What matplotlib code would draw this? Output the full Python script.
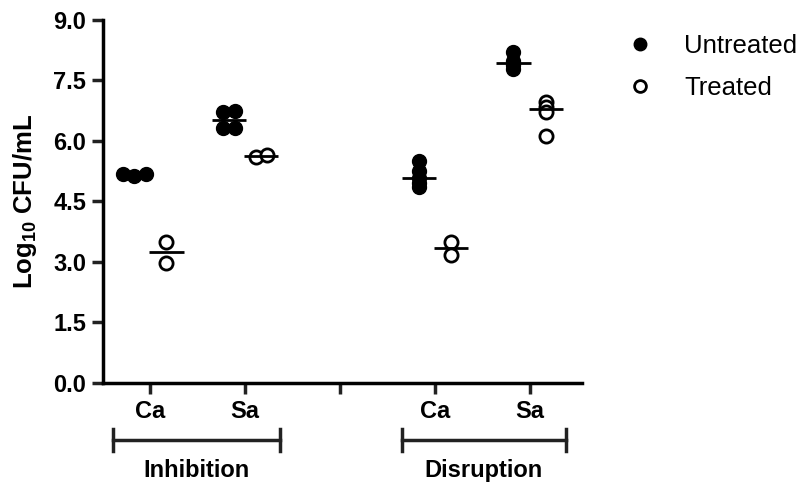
import numpy as np
import matplotlib
matplotlib.use('Agg')
import matplotlib.pyplot as plt
from matplotlib.lines import Line2D

plt.rcParams['font.family'] = ['Liberation Sans', 'DejaVu Sans']
plt.rcParams['mathtext.fontset'] = 'custom'
plt.rcParams['mathtext.rm'] = 'Liberation Sans:bold'
plt.rcParams['mathtext.default'] = 'rm'

# data (log10 CFU/mL)
strains = ['Ca', 'Sa']
assays = ['Inhibition', 'Disruption']
inh_untreated = [[5.18, 5.12, 5.18], [6.72, 6.75, 6.33, 6.33]]
inh_treated = [[3.50, 2.98], [5.60, 5.66]]
dis_untreated = [[5.50, 5.25, 5.08, 4.95, 4.85], [8.20, 7.98, 7.88, 7.78]]
dis_treated = [[3.50, 3.17], [6.97, 6.85, 6.72, 6.13]]
yticks = [0.0, 1.5, 3.0, 4.5, 6.0, 7.5, 9.0]

def swarm(vals, row_tol=0.09, step=0.12):
    # points with (almost) the same value get spread sideways, centred
    vals = np.asarray(vals)
    offs = np.zeros(len(vals))
    used = np.zeros(len(vals), bool)
    for i in range(len(vals)):
        if used[i]:
            continue
        row = [j for j in range(len(vals)) if not used[j] and abs(vals[j]-vals[i]) < row_tol]
        for k, j in enumerate(row):
            offs[j] = (k-(len(row)-1)/2)*step
            used[j] = True
    return offs

fig = plt.figure(figsize=(7.98, 4.86), dpi=100)
ax = fig.add_axes([0.129, 0.212, 0.600, 0.747])

dodge = 0.17
pos = [1, 2, 4, 5]
groups_u = inh_untreated + dis_untreated
groups_t = inh_treated + dis_treated
for p, gu, gt in zip(pos, groups_u, groups_t):
    for vals, sgn, filled in [(gu, -1, True), (gt, 1, False)]:
        x0 = p + sgn*dodge
        xs = x0 + swarm(vals)
        if filled:
            ax.plot(xs, vals, 'o', ms=10, mfc='black', mec='black', zorder=2, clip_on=False)
        else:
            ax.plot(xs, vals, 'o', ms=9.5, mfc='white', mec='black', mew=2, zorder=2, clip_on=False)
        ax.hlines(np.median(vals), x0-0.18, x0+0.18, color='black', lw=2, zorder=3)

ax.set_xlim(0.5, 5.55)
ax.set_ylim(0, 9)
ax.set_yticks(yticks)
ax.set_yticklabels([f'{t:.1f}' for t in yticks], fontsize=17, fontweight='bold')
ax.set_xticks([1, 2, 3, 4, 5])
ax.set_xticklabels(strains + [''] + strains, fontsize=17, fontweight='bold')
for s in ['top', 'right']:
    ax.spines[s].set_visible(False)
for s in ['left', 'bottom']:
    ax.spines[s].set_linewidth(2.5)
ax.tick_params(width=2.5, length=8, pad=4, color='#222222')
ax.set_ylabel('Log$_{10}$ CFU/mL', fontsize=18.5, fontweight='bold', labelpad=10)

# assay brackets under the axis
tr = ax.get_xaxis_transform()
ybr, cap, ylab = -0.157, 0.03, -0.24
for name, (a, b) in zip(assays, [(0.61, 2.37), (3.65, 5.38)]):
    ax.plot([a, b], [ybr, ybr], color='#222222', lw=2.5, transform=tr, clip_on=False)
    for xe in (a, b):
        ax.plot([xe, xe], [ybr-cap, ybr+cap], color='#222222', lw=2.5, transform=tr, clip_on=False)
    ax.text((a+b)/2, ylab, name, transform=tr, ha='center', va='center', fontsize=17, fontweight='bold')

handles = [Line2D([], [], ls='none', marker='o', ms=9, mfc='black', mec='black'),
           Line2D([], [], ls='none', marker='o', ms=8.5, mfc='white', mec='black', mew=2)]
fig.legend(handles, ['Untreated', 'Treated'], loc='upper left', bbox_to_anchor=(0.754, 0.977),
           frameon=False, fontsize=18.5, handletextpad=1.1, labelspacing=0.7, handlelength=1.2)

fig.savefig('out.png', dpi=100)
